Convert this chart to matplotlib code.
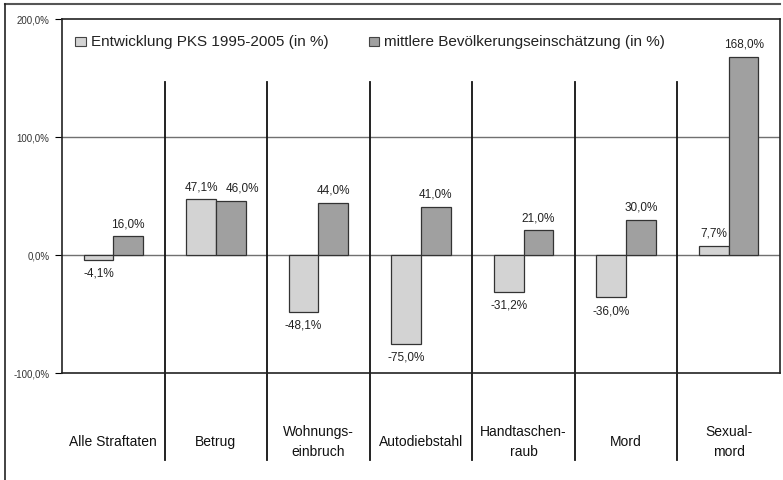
import matplotlib.pyplot as plt
import numpy as np
from matplotlib.lines import Line2D
from matplotlib.patches import Rectangle

plt.rcParams['font.family'] = ['Liberation Sans', 'DejaVu Sans']

# Daten
kategorien = ['Alle Straftaten', 'Betrug', 'Wohnungs-\neinbruch', 'Autodiebstahl',
              'Handtaschen-\nraub', 'Mord', 'Sexual-\nmord']
pks = [-4.1, 47.1, -48.1, -75.0, -31.2, -36.0, 7.7]
bevoelkerung = [16.0, 46.0, 44.0, 41.0, 21.0, 30.0, 168.0]
reihen = ['Entwicklung PKS 1995-2005 (in %)', 'mittlere Bevölkerungseinschätzung (in %)']
yticks = [-100, 0, 100, 200]

hell = '#d3d3d3'
dunkel = '#a0a0a0'

fig = plt.figure(figsize=(7.83, 4.81), dpi=100)
ax = fig.add_axes([62 / 783, 1 - 374 / 481, (780 - 62) / 783, (374 - 20) / 481])

x = np.arange(len(kategorien))
b = 0.29
ax.bar(x - b / 2, pks, b, color=hell, edgecolor='#333333', linewidth=0.9, zorder=3)
ax.bar(x + b / 2, bevoelkerung, b, color=dunkel, edgecolor='#333333', linewidth=0.9, zorder=3)

def fmt(v):
    return f'{v:.1f}%'.replace('.', ',')

for xi, v, w in zip(x, pks, bevoelkerung):
    # Beschriftungen auseinanderschieben, wenn beide Balken fast gleich hoch sind
    dx = 0.11 if (v > 0 and abs(v - w) < 10) else 0
    ax.text(xi - b / 2, v + (6 if v >= 0 else -6), fmt(v), ha='center',
            va='bottom' if v >= 0 else 'top', fontsize=8.5, color='#222222')
    ax.text(xi + b / 2 + dx, w + (6 if w >= 0 else -6), fmt(w), ha='center',
            va='bottom' if w >= 0 else 'top', fontsize=8.5, color='#222222')

ax.set_xlim(-0.5, len(kategorien) - 0.5)
ax.set_ylim(-100, 200)
ax.set_yticks(yticks)
ax.set_yticklabels([fmt(t) for t in yticks], fontsize=7, color='#333333')
ax.tick_params(axis='y', length=5, width=0.8, pad=4)
ax.set_xticks([])

for y in [0, 100]:
    ax.axhline(y, color='#707070', linewidth=1, zorder=1)

for s in ['top', 'right', 'left', 'bottom']:
    ax.spines[s].set_linewidth(1.2)
    ax.spines[s].set_color('#222222')

# Trennlinien zwischen den Kategorien
for i in range(1, len(kategorien)):
    ax.add_line(Line2D([i - 0.5, i - 0.5], [147, -174], color='#111111',
                       linewidth=1.3, clip_on=False, zorder=2))

for xi, k in zip(x, kategorien):
    ax.text(xi, -158, k, ha='center', va='center', fontsize=10,
            color='#111111', clip_on=False, linespacing=1.55)

# Legende
ax.add_patch(Rectangle((-0.37, 177), 0.1, 8, facecolor=hell, edgecolor='#444444',
                       linewidth=0.8, zorder=4))
ax.text(-0.22, 181, reihen[0], fontsize=11, va='center', ha='left', color='#222222')
ax.add_patch(Rectangle((2.49, 177), 0.1, 8, facecolor=dunkel, edgecolor='#444444',
                       linewidth=0.8, zorder=4))
ax.text(2.64, 181, reihen[1], fontsize=11, va='center', ha='left', color='#222222')

# äußerer Rahmen
fig.add_artist(Line2D([5 / 783, 780 / 783], [1 - 5 / 481, 1 - 5 / 481],
                      color='#555555', linewidth=1.5))
fig.add_artist(Line2D([5 / 783, 5 / 783], [1 - 5 / 481, 0.0],
                      color='#222222', linewidth=1.2))

fig.savefig('out.png', dpi=100)
